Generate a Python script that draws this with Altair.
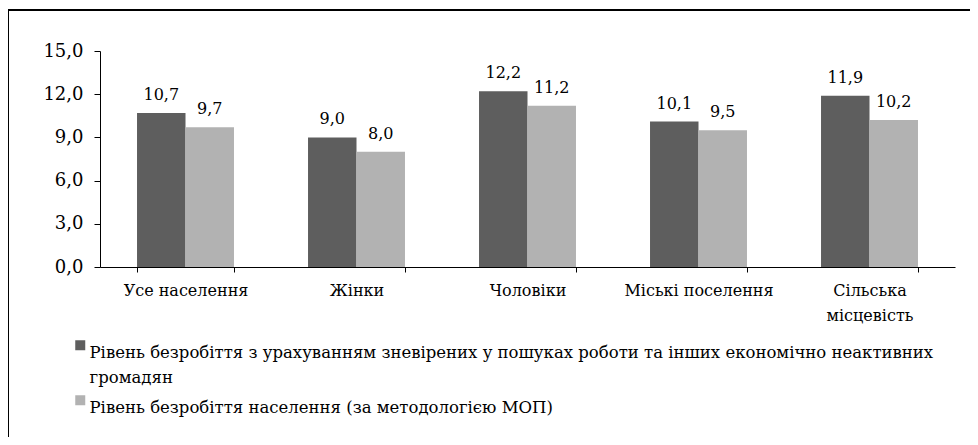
import json
import altair as alt
import pandas as pd

categories = ["Усе населення", "Жінки", "Чоловіки", "Міські поселення", "Сільська місцевість"]
series = [
    "Рівень  безробіття з урахуванням зневірених у пошуках роботи та інших економічно неактивних громадян",
    "Рівень безробіття  населення (за методологією МОП)",
]
values_broad = [10.7, 9.0, 12.2, 10.1, 11.9]
values_ilo = [9.7, 8.0, 11.2, 9.5, 10.2]
colors = ["#5e5e5e", "#b2b2b2"]
y_ticks = [0, 3, 6, 9, 12, 15]

rows = []
for c, a, b in zip(categories, values_broad, values_ilo):
    rows.append({"cat": c, "series": series[0], "v": a})
    rows.append({"cat": c, "series": series[1], "v": b})
df = pd.DataFrame(rows)

FONT = "DejaVu Serif"
FS_Y = 18
FS = 16
FS_LEG = 16.5

x_label_expr = (
    "datum.label == " + json.dumps(categories[4]) + " ? "
    + json.dumps(categories[4].split(" ")) + " : datum.label"
)
legend_first = series[0].rsplit(" ", 1)
legend_label_expr = (
    "datum.label == " + json.dumps(series[0]) + " ? "
    + json.dumps(legend_first) + " : datum.label"
)

x_enc = alt.X(
    "cat:N",
    sort=categories,
    title=None,
    scale=alt.Scale(paddingInner=0.433, paddingOuter=0.2165),
    axis=alt.Axis(
        labelAngle=0,
        tickBand="extent",
        tickSize=5,
        labelPadding=10,
        labelFontSize=FS,
        labelLineHeight=25,
        labelExpr=x_label_expr,
        labelLimit=300,
    ),
)

bars = alt.Chart(df).mark_bar().encode(
    x=x_enc,
    xOffset=alt.XOffset("series:N", sort=series),
    y=alt.Y(
        "v:Q",
        title=None,
        scale=alt.Scale(domain=[0, 15], nice=False),
        axis=alt.Axis(
            values=y_ticks,
            labelExpr="replace(format(datum.value, '.1f'), '.', ',')",
            tickSize=6,
            labelPadding=11,
            labelFontSize=FS_Y,
            grid=False,
        ),
    ),
    color=alt.Color(
        "series:N",
        sort=series,
        scale=alt.Scale(domain=series, range=colors),
        legend=alt.Legend(
            title=None,
            orient="none",
            legendX=-28,
            legendY=286,
            direction="vertical",
            symbolType="square",
            symbolSize=100,
            symbolStrokeWidth=0,
            labelFontSize=FS_LEG,
            labelOffset=1,
            labelLimit=1200,
            labelExpr=legend_label_expr,
            rowPadding=5,
            labelBaseline="top",
        ),
    ),
)

labels = alt.Chart(df).transform_calculate(
    txt="replace(format(datum.v, '.1f'), '.', ',')"
).mark_text(baseline="alphabetic", dy=-13, fontSize=FS, font=FONT, color="black").encode(
    x=alt.X("cat:N", sort=categories),
    xOffset=alt.XOffset("series:N", sort=series),
    y="v:Q",
    text="txt:N",
)

frame_top = alt.Chart(df).mark_rule(color="black", strokeWidth=1).encode(
    x=alt.value(-92), x2=alt.value(900), y=alt.value(-41)
)
frame_left = alt.Chart(df).mark_rule(color="black", strokeWidth=1).encode(
    x=alt.value(-92), y=alt.value(-41), y2=alt.value(420)
)

chart = alt.layer(bars, labels, frame_top, frame_left).properties(
    width=855,
    height=216,
    autosize=alt.AutoSizeParams(type="none"),
    padding={"left": 92, "top": 43, "right": 15, "bottom": 170},
).configure(
    style={"guide-label": {"lineHeight": 25}}
).configure_view(stroke=None).configure_axis(
    domainColor="black",
    tickColor="black",
    labelColor="black",
    labelFont=FONT,
).configure_legend(
    labelFont=FONT,
    labelColor="black",
)

chart.save("out.html", embed_options={"renderer": "svg", "actions": False})
